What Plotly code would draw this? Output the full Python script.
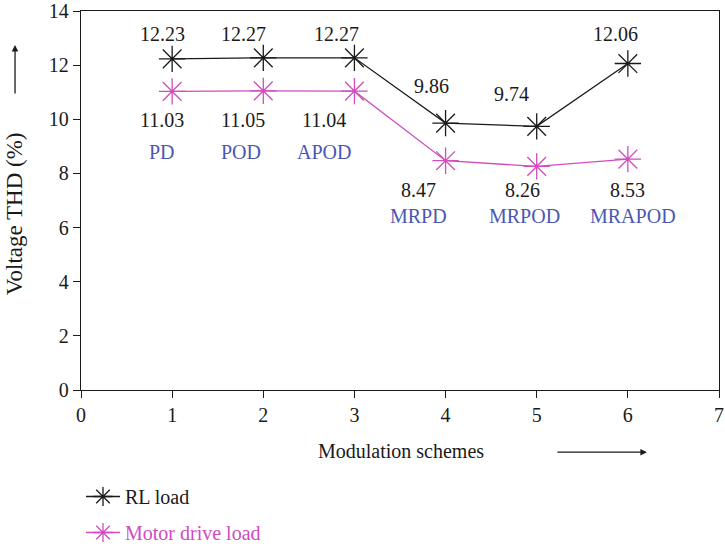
import plotly.graph_objects as go

# Modulation scheme index, names and measured voltage THD (%)
schemes = [1, 2, 3, 4, 5, 6]
scheme_names = ["PD", "POD", "APOD", "MRPD", "MRPOD", "MRAPOD"]
thd_rl = [12.23, 12.27, 12.27, 9.86, 9.74, 12.06]
thd_motor = [11.03, 11.05, 11.04, 8.47, 8.26, 8.53]

# pixel offsets (x, y-up) of the value / name labels from their points
rl_dx = [-10, -20, -18, -14, -25, -12]
rl_dy = [25, 24, 24, 37, 32, 30]
mo_dx = [-10, -20, -30, -27, -14, 0]
mo_dy = [-29, -29, -29, -29, -24, -31]
name_dx = [-10, -22, -30, -27, -12, 5]
name_dy = [-61, -61, -61, -55, -50, -57]

BLACK = "#1a1a1a"
MAGENTA = "#d04cbf"
BLUE = "#4a57b4"
FONT = "Liberation Serif"
FS = 20

fig = go.Figure()
fig.add_trace(go.Scatter(
    x=schemes, y=thd_rl, mode="lines+markers",
    name="RL load", legendgroup="rl",
    line=dict(color=BLACK, width=1.3),
    marker=dict(symbol="asterisk-open", size=22, line=dict(color=BLACK, width=1.3)),
))
fig.add_trace(go.Scatter(
    x=schemes, y=thd_motor, mode="lines+markers",
    name=f'<span style="color:{MAGENTA}">Motor drive load</span>', legendgroup="motor",
    line=dict(color=MAGENTA, width=1.3),
    marker=dict(symbol="asterisk-open", size=22, line=dict(color=MAGENTA, width=1.3)),
))

ann = []
for i, x in enumerate(schemes):
    ann.append(dict(x=x, y=thd_rl[i], xref="x", yref="y", text=f"{thd_rl[i]:.2f}",
                    showarrow=False, xshift=rl_dx[i], yshift=rl_dy[i],
                    font=dict(color=BLACK, size=FS, family=FONT)))
    ann.append(dict(x=x, y=thd_motor[i], xref="x", yref="y", text=f"{thd_motor[i]:.2f}",
                    showarrow=False, xshift=mo_dx[i], yshift=mo_dy[i],
                    font=dict(color=BLACK, size=FS, family=FONT)))
    ann.append(dict(x=x, y=thd_motor[i], xref="x", yref="y", text=scheme_names[i],
                    showarrow=False, xshift=name_dx[i], yshift=name_dy[i],
                    font=dict(color=BLUE, size=FS, family=FONT)))

# axis titles with direction arrows
ann.append(dict(x=-0.105, y=0.621, xref="paper", yref="paper", text="Voltage THD (%)",
                xanchor="center", yanchor="middle",
                textangle=-90, showarrow=False, font=dict(color=BLACK, size=23, family=FONT)))
ann.append(dict(x=-0.1034, y=0.9366, xref="paper", yref="paper", ax=0, ay=50,
                axref="pixel", ayref="pixel", text="", showarrow=True,
                arrowhead=2, arrowsize=1, arrowwidth=1.3, arrowcolor=BLACK))
ann.append(dict(x=0.5016, y=0.179, xref="paper", yref="paper", text="Modulation schemes",
                xanchor="center", yanchor="middle",
                showarrow=False, font=dict(color=BLACK, size=FS, family=FONT)))
ann.append(dict(x=0.887, y=0.177, xref="paper", yref="paper", ax=-91, ay=0,
                axref="pixel", ayref="pixel", text="", showarrow=True,
                arrowhead=2, arrowsize=1, arrowwidth=1.3, arrowcolor=BLACK))

fig.update_layout(
    width=725, height=547,
    margin=dict(l=81, r=6, t=11, b=0, autoexpand=False),
    paper_bgcolor="white", plot_bgcolor="white",
    font=dict(family=FONT, size=FS, color=BLACK),
    showlegend=True,
    legend=dict(x=0.0, y=-0.0093, xanchor="left", yanchor="bottom",
                bgcolor="rgba(0,0,0,0)", font=dict(size=FS, family=FONT, color=BLACK),
                tracegroupgap=7, itemwidth=34),
    annotations=ann,
    xaxis=dict(range=[0, 7], tickvals=list(range(0, 8)), showgrid=False, zeroline=False,
               showline=True, linecolor=BLACK, linewidth=1.3, mirror=True,
               ticks="outside", ticklen=7, tickcolor=BLACK, tickwidth=1.3,
               anchor="y", tickfont=dict(size=FS, family=FONT, color=BLACK)),
    yaxis=dict(range=[0, 14], tickvals=list(range(0, 15, 2)), showgrid=False, zeroline=False,
               domain=[0.2929, 1],
               showline=True, linecolor=BLACK, linewidth=1.3, mirror=True,
               ticks="outside", ticklen=7, tickcolor=BLACK, tickwidth=1.3,
               tickfont=dict(size=FS, family=FONT, color=BLACK)),
)

fig.write_html("out.html")
